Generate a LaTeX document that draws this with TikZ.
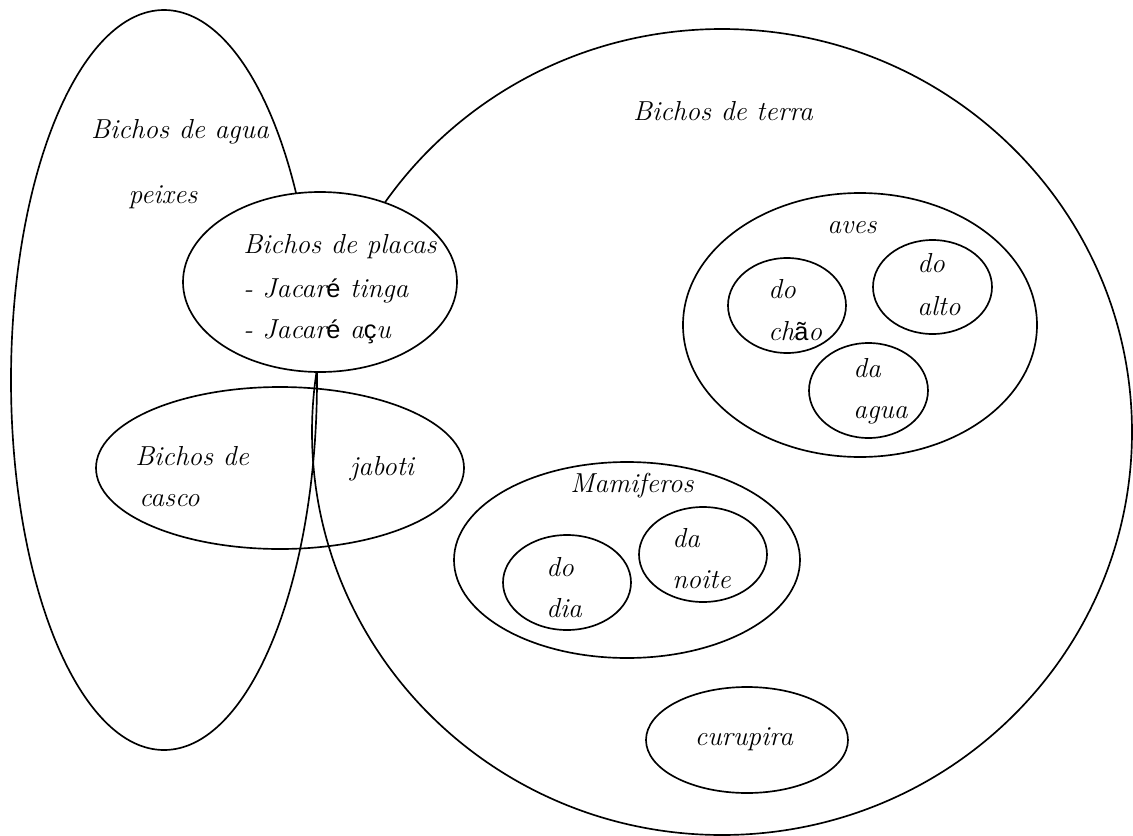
\documentclass[tikz,border=0pt]{standalone}
\usepackage{fontspec}
\newfontfamily\accfont{Liberation Sans}
\begin{document}
\begin{tikzpicture}[x=0.75pt,y=-0.75pt,
  set/.style={line width=1.25pt, draw=black},
  lbl/.style={anchor=base west, inner sep=0pt, font=\fontsize{20.6}{24}\selectfont\itshape},
  clbl/.style={lbl, anchor=base},
  acc/.style={}]
\newcommand\accchar[1]{{\upshape\accfont\fontsize{19}{24}\selectfont #1}}
\useasboundingbox (0,0) rectangle (1133,836);
% sets
\draw[set] (164,380) ellipse [x radius=153, y radius=370];
\draw[set] (722,432) ellipse [x radius=410, y radius=403];
\draw[set, fill=white] (320,282) ellipse [x radius=137, y radius=90];
\draw[set] (280,468) ellipse [x radius=184, y radius=81];
\draw[set] (860,325) ellipse [x radius=177, y radius=132];
\draw[set] (787,305.5) ellipse [x radius=59, y radius=47.5];
\draw[set] (932.5,287) ellipse [x radius=59.5, y radius=47];
\draw[set] (868.5,390.5) ellipse [x radius=59.5, y radius=47.5];
\draw[set] (627,560) ellipse [x radius=173, y radius=98];
\draw[set] (567,582.5) ellipse [x radius=64, y radius=47.5];
\draw[set] (703,554.5) ellipse [x radius=64, y radius=47.5];
\draw[set] (747,740) ellipse [x radius=101, y radius=53];
% labels
\node[clbl] (agua) at (180,138) {Bichos de agua};
\node[clbl] (peixes) at (163,203) {peixes};
\node[clbl] (terra) at (723,120) {Bichos de terra};
\node[lbl] (placas1) at (243,253) {Bichos de placas};
\node[lbl] (placas2) at (243,297) {- Jacar\accchar{é} tinga};
\node[lbl] (placas3) at (243,338) {- Jacar\accchar{é} a\accchar{ç}u};
\node[lbl] (casco1) at (135,465) {Bichos de};
\node[lbl] (casco2) at (139,506) {casco};
\node[clbl] (jaboti) at (382,475) {jaboti};
\node[clbl] (aves) at (852,233) {aves};
\node[lbl] (chao1) at (768,298) {do};
\node[lbl] (chao2) at (768,340) {ch\accchar{ã}o};
\node[lbl] (alto1) at (917,272) {do};
\node[lbl] (alto2) at (917,315) {alto};
\node[lbl] (aagua1) at (853,377) {da};
\node[lbl] (aagua2) at (853,418) {agua};
\node[clbl] (mamif) at (632,492) {Mamiferos};
\node[lbl] (dia1) at (546,576) {do};
\node[lbl] (dia2) at (546,617) {dia};
\node[lbl] (noite1) at (672,547) {da};
\node[lbl] (noite2) at (672,588) {noite};
\node[clbl] (curupira) at (744,745) {curupira};
\end{tikzpicture}
\end{document}
